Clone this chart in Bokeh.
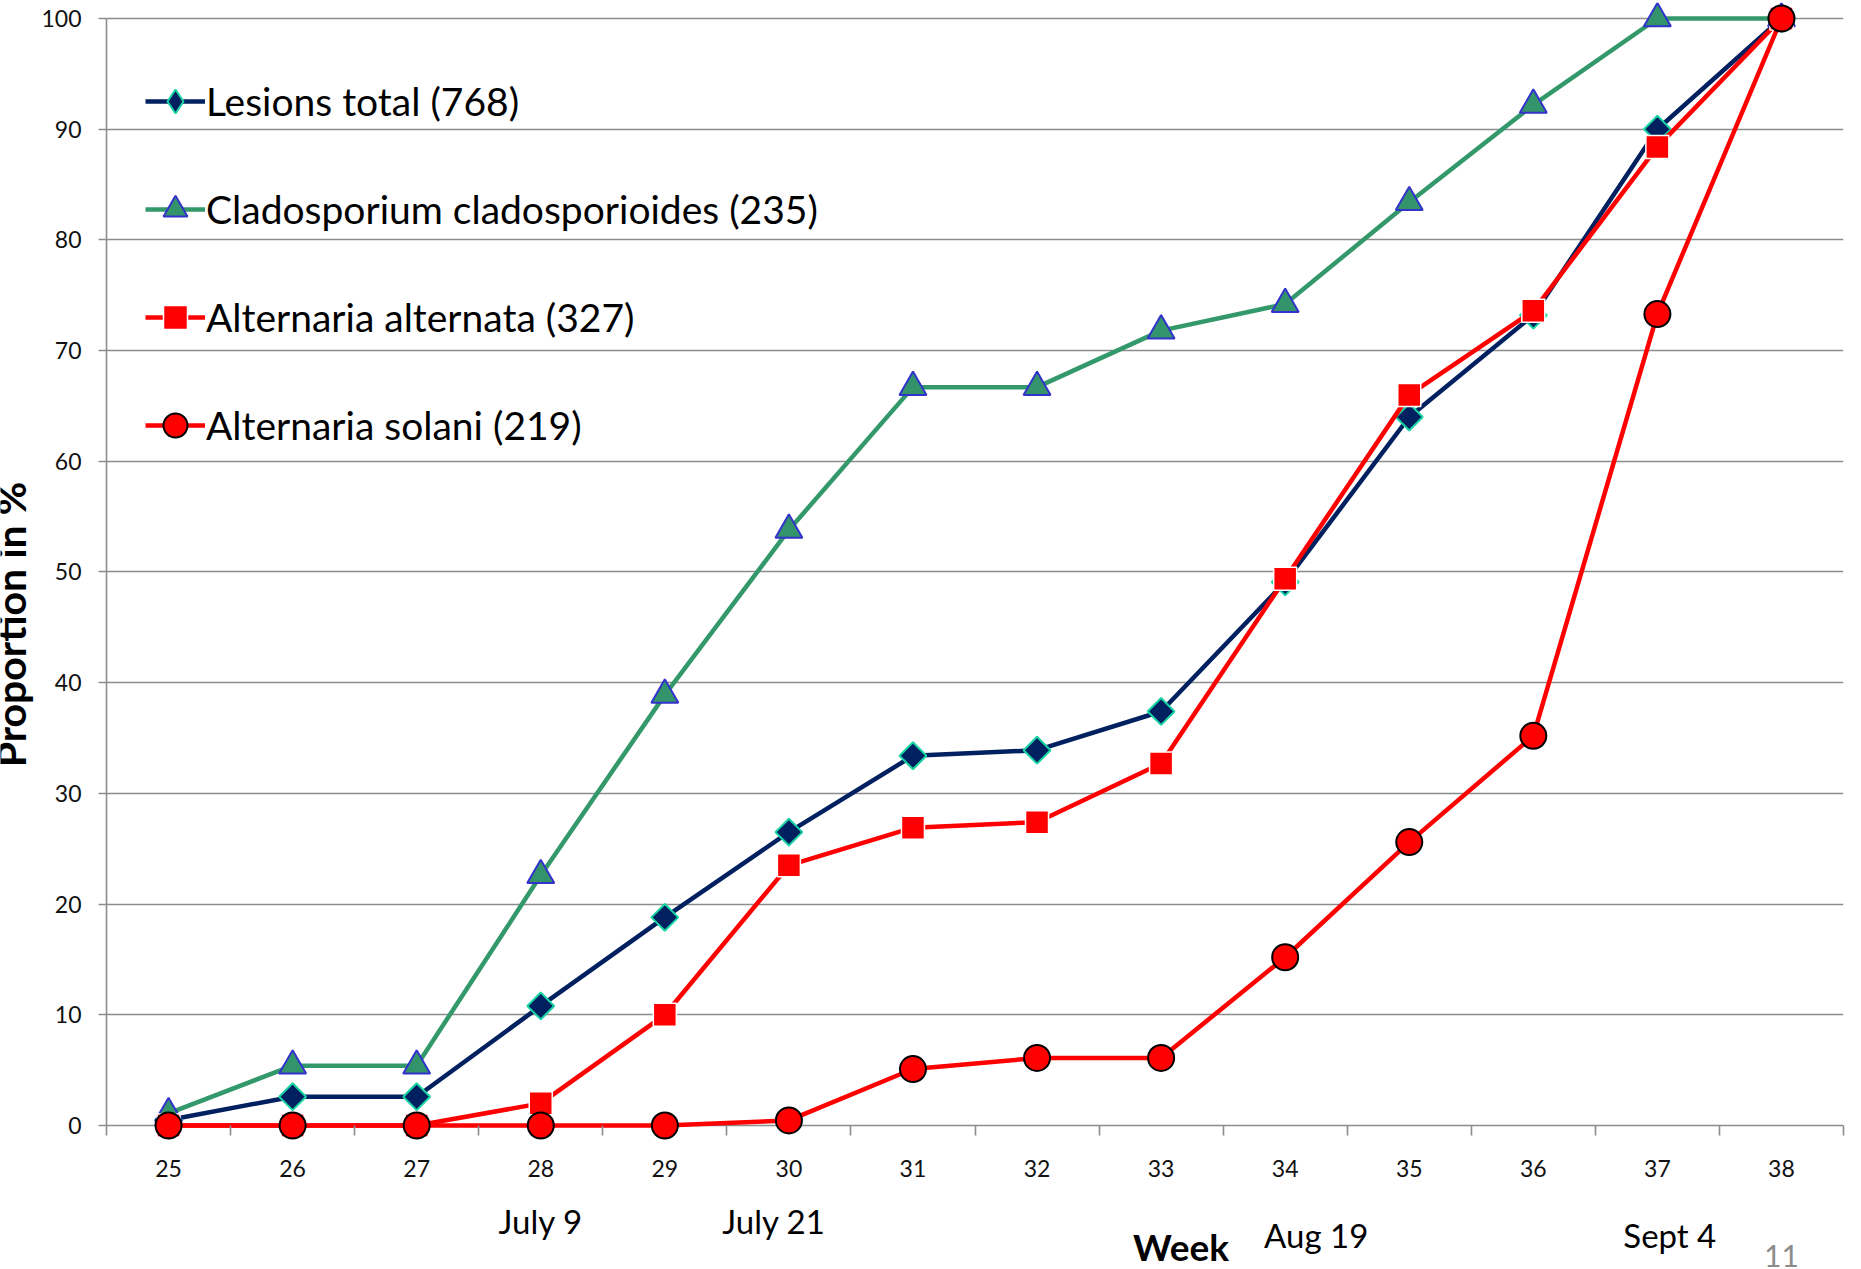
import numpy as np
from bokeh.plotting import figure
from bokeh.layouts import row, column
from bokeh.models import Range1d, FixedTicker, Legend, LegendItem, Label
from bokeh.embed import file_html
from bokeh.resources import INLINE

weeks = [25, 26, 27, 28, 29, 30, 31, 32, 33, 34, 35, 36, 37, 38]
lesions_total = [0.5, 2.6, 2.6, 10.8, 18.8, 26.5, 33.4, 33.9, 37.4, 49.1, 64.0, 73.2, 90.0, 100]
cladosporium = [1.1, 5.4, 5.4, 22.6, 38.9, 53.8, 66.7, 66.7, 71.8, 74.2, 83.4, 92.2, 100, 100]
alt_alternata = [0, 0, 0, 2.0, 10.0, 23.5, 26.9, 27.4, 32.7, 49.4, 66.0, 73.6, 88.4, 100]
alt_solani = [0, 0, 0, 0, 0, 0.46, 5.1, 6.1, 6.1, 15.2, 25.6, 35.2, 73.3, 100]
y_ticks = [0, 10, 20, 30, 40, 50, 60, 70, 80, 90, 100]
series_names = ["Lesions total (768)", "Cladosporium cladosporioides (235)",
                "Alternaria alternata (327)", "Alternaria solani (219)"]
date_labels = ["July 9", "July 21", "Aug 19", "Sept 4"]

FONT = "Lato"
GRID = "#8c8c8c"
LEFT_W = 36

x_range = Range1d(24.5, 38.5)

p = figure(width=1861 - LEFT_W, height=1190, output_backend="svg", toolbar_location=None,
           x_range=x_range, y_range=Range1d(-1.536, 101.445),
           min_border_left=106 - LEFT_W, min_border_right=18, min_border_top=2,
           min_border_bottom=48)
p.outline_line_color = None
p.xgrid.visible = False
p.ygrid.ticker = FixedTicker(ticks=y_ticks)
p.ygrid.grid_line_color = GRID
p.ygrid.grid_line_width = 1.6

xa = p.xaxis[0]
xa.ticker = FixedTicker(ticks=weeks, minor_ticks=[w - 0.5 for w in weeks] + [weeks[-1] + 0.5])
xa.major_tick_line_color = None
xa.major_tick_out = 0
xa.major_tick_in = 0
xa.minor_tick_line_color = GRID
xa.minor_tick_line_width = 1.6
xa.minor_tick_in = 17
xa.minor_tick_out = -7
xa.axis_line_color = None
xa.major_label_standoff = 17
xa.major_label_text_font = FONT
xa.major_label_text_font_size = "23px"
xa.major_label_text_color = "#111111"

ya = p.yaxis[0]
ya.ticker = FixedTicker(ticks=y_ticks)
ya.bounds = (0, 100)
ya.axis_line_color = GRID
ya.axis_line_width = 1.6
ya.major_tick_line_color = GRID
ya.major_tick_line_width = 1.6
ya.major_tick_out = 8
ya.major_tick_in = 0
ya.minor_tick_line_color = None
ya.major_label_standoff = 17
ya.major_label_text_font = FONT
ya.major_label_text_font_size = "23px"
ya.major_label_text_color = "#111111"

# series
r1l = p.line(weeks, lesions_total, line_color="#002060", line_width=4.5)
# Bokeh diamond (used for the legend sample), fully covered by the square diamonds below
r1leg = p.scatter(weeks, lesions_total, marker="diamond", size=26,
                  fill_color="#002060", line_color="#19d3a2", line_width=2)
r1m = p.scatter(weeks, lesions_total, marker="square", angle=np.pi / 4, size=19,
                fill_color="#002060", line_color="#19d3a2", line_width=2)
r2l = p.line(weeks, cladosporium, line_color="#33996a", line_width=4.5)
r2m = p.scatter(weeks, cladosporium, marker="triangle", size=27,
                fill_color="#33936a", line_color="#3333cc", line_width=2)
r3l = p.line(weeks, alt_alternata, line_color="#ff0000", line_width=4.5)
r3m = p.scatter(weeks, alt_alternata, marker="square", size=23,
                fill_color="#ff0000", line_color="white", line_width=1.5)
r4l = p.line(weeks, alt_solani, line_color="#ff0000", line_width=4.5)
r4m = p.scatter(weeks, alt_solani, marker="circle", size=26,
                fill_color="#ff0000", line_color="black", line_width=2)

legend = Legend(items=[
    LegendItem(label=series_names[0], renderers=[r1l, r1leg]),
    LegendItem(label=series_names[1], renderers=[r2l, r2m]),
    LegendItem(label=series_names[2], renderers=[r3l, r3m]),
    LegendItem(label=series_names[3], renderers=[r4l, r4m]),
], location=(39, 687), orientation="vertical", glyph_width=60, glyph_height=60,
    label_height=60, spacing=48, padding=0, margin=0, border_line_color=None,
    background_fill_alpha=0, label_text_font=FONT, label_text_font_size="39px",
    label_text_color="black", label_standoff=1)
p.add_layout(legend)

# left strip: y axis title, partly cut off at the page edge as in the reference
left = figure(width=LEFT_W, height=1269, output_backend="svg", toolbar_location=None,
              x_axis_type=None, y_axis_type=None, x_range=Range1d(0, LEFT_W),
              y_range=Range1d(0, 1269), min_border=0)
left.outline_line_color = None
left.grid.visible = False
left.add_layout(Label(x=10, y=1269 - 624, x_units="screen", y_units="screen",
                      text="Proportion in %", angle=np.pi / 2, text_align="center",
                      text_baseline="alphabetic", text_font=FONT, text_font_style="bold",
                      text_font_size="41px", text_color="black"))

# bottom strip: dates, axis word and page number
bottom = figure(width=1861 - LEFT_W, height=79, output_backend="svg", toolbar_location=None,
                x_axis_type=None, y_axis_type=None, x_range=x_range,
                y_range=Range1d(0, 79), min_border_left=106 - LEFT_W, min_border_right=18,
                min_border_top=0, min_border_bottom=0)
bottom.outline_line_color = None
bottom.grid.visible = False
for txt, xv, yv in zip(date_labels, [28.0, 29.88, 34.25, 37.1], [49, 49, 35, 35]):
    bottom.add_layout(Label(x=xv, y=yv, x_units="data", y_units="screen", text=txt,
                            text_align="center", text_baseline="middle", text_font=FONT,
                            text_font_size="33px", text_color="black"))
bottom.add_layout(Label(x=33.16, y=23, x_units="data", y_units="screen", text="Week",
                        text_align="center", text_baseline="middle", text_font=FONT,
                        text_font_style="bold", text_font_size="37px", text_color="black"))
bottom.add_layout(Label(x=38.0, y=14, x_units="data", y_units="screen", text="11",
                        text_align="center", text_baseline="middle", text_font=FONT,
                        text_font_size="30px", text_color="#8c8c8c"))

layout = row(left, column(p, bottom))
open("out.html", "w").write(file_html(layout, INLINE))
